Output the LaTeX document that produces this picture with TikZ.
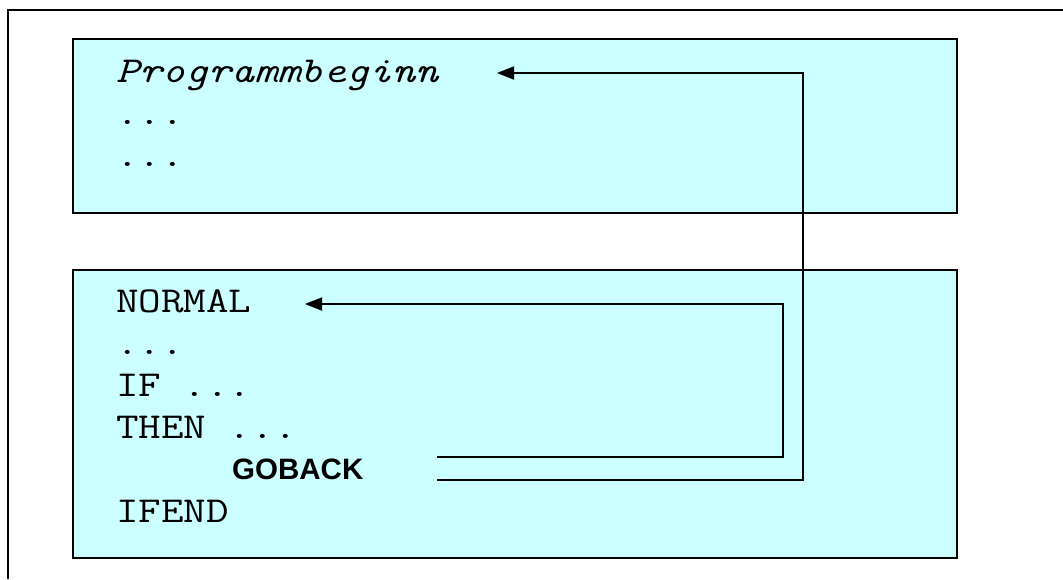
\documentclass[tikz,border=0pt]{standalone}
\usepackage{fontspec}
\setmainfont{Liberation Serif}
\setmonofont[FakeStretch=1.2]{Latin Modern Mono}
\newfontfamily\boldsans{Liberation Sans}
\usetikzlibrary{arrows.meta}
\definecolor{boxfill}{HTML}{CCFFFF}
\tikzset{
  codebox/.style={draw=black, line width=1.5pt, fill=boxfill, rectangle, inner sep=0pt, anchor=north west},
  codeline/.style={anchor=base west, inner sep=0pt, font=\ttfamily\fontsize{36.5}{42}\selectfont},
  gobackline/.style={anchor=base west, inner sep=0pt, font=\boldsans\bfseries\fontsize{29.5}{32}\selectfont},
  jump/.style={draw=black, line width=1.8pt, -{Triangle[length=17pt,width=13pt]}},
  frame/.style={draw=black, line width=2pt}
}
\begin{document}
\begin{tikzpicture}[x=1pt,y=-1pt]
\useasboundingbox (0,0) rectangle (1063,579);
% outer frame
\coordinate (fbl) at (8,579);
\coordinate (ftl) at (8,10);
\coordinate (ftr) at (1063,10);
\draw[frame] (fbl) -- (ftl) -- (ftr);
% boxes
\node[codebox, minimum width=884pt, minimum height=174pt] (topbox) at (72,38) {};
\node[codebox, minimum width=884pt, minimum height=288pt] (botbox) at (72,269) {};
% top box text
\node[codeline] (prog) at (116,82) {\itshape Programmbeginn};
\node[codeline] (tdots1) at (116,124) {...};
\node[codeline] (tdots2) at (116,166) {...};
% bottom box text
\node[codeline] (normal) at (116,312) {NORMAL};
\node[codeline] (bdots) at (116,354) {...};
\node[codeline] (ifl) at (116,396) {IF ...};
\node[codeline] (thenl) at (116,438) {THEN ...};
\node[gobackline] (goback) at (232,479) {GOBACK};
\node[codeline] (ifend) at (116,522) {IFEND};
% connector end points
\coordinate (srcA) at (437,480);
\coordinate (tipA) at (497,73);
\coordinate (srcB) at (437,457);
\coordinate (tipB) at (305,304);
\draw[jump] (srcB) -- (783,457) -- (783,304) -- (tipB);
\draw[jump] (srcA) -- (803,480) -- (803,73) -- (tipA);
\end{tikzpicture}
\end{document}
